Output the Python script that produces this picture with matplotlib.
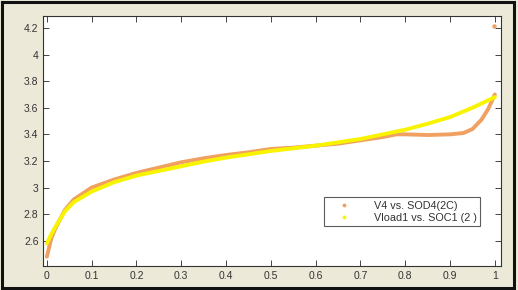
import matplotlib
matplotlib.use("Agg")
import matplotlib.pyplot as plt
from matplotlib.patches import Rectangle

# valeurs
soc_orange = [0.0, 0.005, 0.01, 0.02, 0.04, 0.06, 0.1, 0.15, 0.2, 0.25, 0.3, 0.35,
              0.4, 0.45, 0.5, 0.55, 0.6, 0.65, 0.7, 0.75, 0.78, 0.8, 0.85, 0.9,
              0.93, 0.95, 0.97, 0.985, 1.0]
v_orange = [2.48, 2.55, 2.62, 2.70, 2.83, 2.91, 3.00, 3.06, 3.11, 3.15, 3.19, 3.22,
            3.245, 3.265, 3.29, 3.30, 3.315, 3.33, 3.355, 3.38, 3.40, 3.40, 3.395, 3.40,
            3.41, 3.44, 3.51, 3.59, 3.70]
outlier_x = [0.998]
outlier_y = [4.215]

soc_yellow = [0.0, 0.01, 0.02, 0.04, 0.06, 0.1, 0.15, 0.2, 0.25, 0.3, 0.35, 0.4,
              0.45, 0.5, 0.55, 0.6, 0.65, 0.7, 0.75, 0.8, 0.85, 0.9, 0.95, 1.0]
v_yellow = [2.58, 2.65, 2.71, 2.82, 2.89, 2.97, 3.04, 3.09, 3.125, 3.16, 3.195, 3.225,
            3.25, 3.275, 3.295, 3.315, 3.34, 3.365, 3.40, 3.435, 3.48, 3.53, 3.60, 3.68]

labels = ["V4 vs. SOD4(2C)", "Vload1 vs. SOC1 (2 )"]
c_orange = "#F0A060"
c_yellow = "#F8F400"
bg = "#ECE9D8"

plt.rcParams["font.family"] = ["Liberation Sans", "DejaVu Sans"]

fig = plt.figure(figsize=(5.18, 2.90), dpi=100, facecolor=bg)
ax = fig.add_axes([0.0836, 0.0828, 0.883, 0.862])

ax.plot(soc_orange, v_orange, color=c_orange, lw=2.8, solid_capstyle="round",
        solid_joinstyle="round")
ax.plot(outlier_x, outlier_y, "o", color=c_orange, ms=2.2)
ax.plot(soc_yellow, v_yellow, color=c_yellow, lw=2.8, solid_capstyle="round",
        solid_joinstyle="round")

# legende avec des points seulement
h1, = ax.plot([], [], ".", color=c_orange, ms=3.5)
h2, = ax.plot([], [], ".", color=c_yellow, ms=3.5)
leg = ax.legend([h1, h2], labels, loc="lower right", bbox_to_anchor=(0.955, 0.16),
                fontsize=7.8, frameon=True, fancybox=False, borderpad=0.3,
                labelspacing=0.2, handlelength=3.0, handletextpad=1.3,
                borderaxespad=0)
leg.get_frame().set_edgecolor("#333333")
leg.get_frame().set_linewidth(0.8)
for t in leg.get_texts():
    t.set_color("#333333")

ax.set_xlim(-0.008, 1.013)
ax.set_ylim(2.41, 4.29)
ax.set_xticks([0, 0.1, 0.2, 0.3, 0.4, 0.5, 0.6, 0.7, 0.8, 0.9, 1])
ax.set_xticklabels(["0", "0.1", "0.2", "0.3", "0.4", "0.5", "0.6", "0.7", "0.8", "0.9", "1"])
ax.set_yticks([2.6, 2.8, 3.0, 3.2, 3.4, 3.6, 3.8, 4.0, 4.2])
ax.set_yticklabels(["2.6", "2.8", "3", "3.2", "3.4", "3.6", "3.8", "4", "4.2"])
ax.tick_params(direction="in", top=True, right=True, length=4, width=0.7,
               labelsize=7.5, colors="#444444", labelcolor="#333333")
for s in ax.spines.values():
    s.set_color("#333333")
    s.set_linewidth(0.8)

# cadre noir autour de la figure
fig.patches.append(Rectangle((0.004, 0.006), 0.988, 0.986, transform=fig.transFigure,
                             fill=False, edgecolor="#111111", lw=2.2))

fig.savefig("out.png", dpi=100, facecolor=bg)
